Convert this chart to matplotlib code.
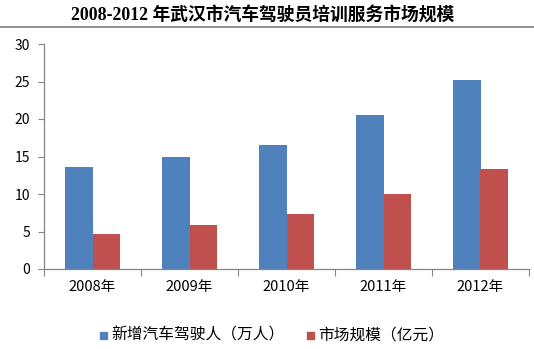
import matplotlib
matplotlib.use("Agg")
import matplotlib.pyplot as plt
import numpy as np
from matplotlib.patches import Rectangle
from matplotlib.lines import Line2D

plt.rcParams['font.family'] = ['Noto Sans CJK SC', 'DejaVu Sans']

years = ["2008年", "2009年", "2010年", "2011年", "2012年"]
drivers = [13.6, 15.0, 16.5, 20.5, 25.2]
market = [4.7, 5.9, 7.3, 10.0, 13.3]
series_names = ["新增汽车驾驶人（万人）", "市场规模（亿元）"]
title = "2008-2012 年武汉市汽车驾驶员培训服务市场规模"

blue = "#4F81BD"
red = "#C0504D"
axis_gray = "#868686"

W, H = 534, 349
fig = plt.figure(figsize=(W / 100, H / 100), dpi=100)
ax = fig.add_axes([44 / W, (H - 269) / H, (529 - 44) / W, (269 - 44) / H])

x = np.arange(len(years))
w = 0.28
ax.bar(x - w / 2, drivers, width=w, color=blue)
ax.bar(x + w / 2, market, width=w, color=red)

ax.set_xlim(-0.5, len(years) - 0.5)
ax.set_ylim(0, 30)
ax.set_yticks(np.arange(0, 31, 5))
ax.set_xticks(np.arange(-0.5, len(years), 1.0))
ax.set_xticklabels([])
ax.set_xticks(x, minor=True)
ax.set_xticklabels(years, minor=True, fontsize=10.5)
ax.tick_params(axis='x', which='minor', length=0, pad=8)
ax.tick_params(axis='x', which='major', length=5, color=axis_gray, width=0.8)
ax.tick_params(axis='y', length=4, color=axis_gray, width=0.8, labelsize=10, pad=6)

for s in ["top", "right"]:
    ax.spines[s].set_visible(False)
for s in ["left", "bottom"]:
    ax.spines[s].set_color(axis_gray)
    ax.spines[s].set_linewidth(0.9)

# title and rule beneath it
fig.text(263 / W, 1 - 16 / H, title, ha='center', va='center', fontsize=12.8,
         fontweight='bold', family=['Liberation Serif', 'Noto Sans CJK SC'])
fig.add_artist(Line2D([0, 1], [1 - 27 / H, 1 - 27 / H], color="#808080", lw=1.2))

# legend
ly = 1 - 335 / H
for sx, name, c in [(103, series_names[0], blue), (310, series_names[1], red)]:
    fig.add_artist(Rectangle((sx / W - 3.5 / W, ly - 3.5 / H), 7 / W, 7 / H,
                             color=c, transform=fig.transFigure))
    fig.text((sx + 8) / W, ly, name, ha='left', va='center', fontsize=11.3)

fig.savefig("out.png", dpi=100)
